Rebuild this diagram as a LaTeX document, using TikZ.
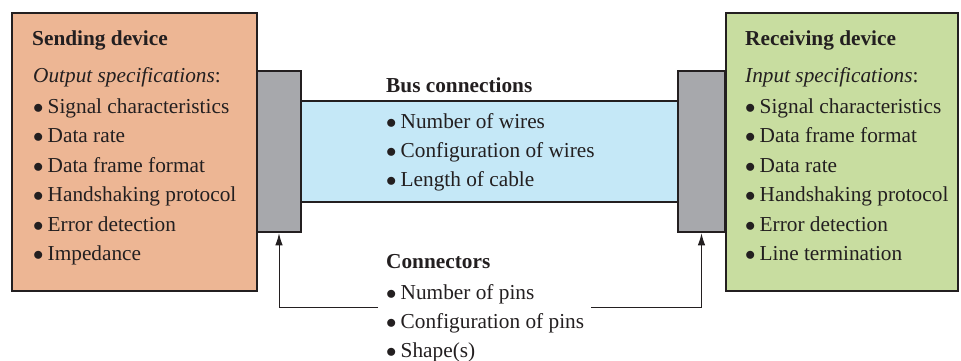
\documentclass[tikz,border=0pt]{standalone}
\usepackage{fontspec}
\setmainfont{Liberation Serif}
\usetikzlibrary{arrows.meta}

\definecolor{sendfill}{RGB}{237,182,148}
\definecolor{recvfill}{RGB}{200,221,160}
\definecolor{busfill}{RGB}{197,232,247}
\definecolor{plugfill}{RGB}{167,168,172}
\definecolor{edgecol}{RGB}{35,31,32}

\newcommand{\dotitem}{$\bullet$\kern-1.2pt\ }

\begin{document}
\begin{tikzpicture}[
    x=1pt, y=-1pt,
    device/.style={draw=edgecol, line width=2.6pt, inner sep=0pt},
    plug/.style={draw=edgecol, line width=2.6pt, fill=plugfill, inner sep=0pt},
    band/.style={draw=edgecol, line width=2pt, fill=busfill, inner sep=0pt},
    txt/.style={anchor=base west, inner sep=0pt, font=\fontsize{21.3}{25}\selectfont, text=edgecol},
    head/.style={txt, font=\fontsize{21.3}{25}\selectfont\bfseries},
    arrow/.style={draw=edgecol, line width=1pt, -{Latex[length=12pt, width=7.5pt]}}
]
    \useasboundingbox (0,0) rectangle (961,360);

    % Devices
    \node[device, fill=sendfill, minimum width=245pt, minimum height=278pt] (send) at (134.5,152) {};
    \node[device, fill=recvfill, minimum width=232pt, minimum height=278pt] (recv) at (842,152) {};

    % Bus and connectors
    \node[band, minimum width=377pt, minimum height=101pt] (bus) at (489.5,151.5) {};
    \node[plug, minimum width=44pt, minimum height=161pt] (connL) at (279,151.5) {};
    \node[plug, minimum width=47pt, minimum height=161pt] (connR) at (701.5,151.5) {};

    % Sending device text
    \node[head] (sendT) at (32,45) {Sending device};
    \node[txt] (sendS) at (33,82) {\textit{Output specifications}:};
    \foreach \t [count=\i] in {Signal characteristics, Data rate, Data frame format,
        Handshaking protocol, Error detection, Impedance} {
        \node[txt] (s\i) at (33,113+29.5*\i-29.5) {\dotitem\t};
    }

    % Receiving device text
    \node[head] (recvT) at (745,45) {Receiving device};
    \node[txt] (recvS) at (745,82) {\textit{Input specifications}:};
    \foreach \t [count=\i] in {Signal characteristics, Data frame format, Data rate,
        Handshaking protocol, Error detection, Line termination} {
        \node[txt] (r\i) at (745,113+29.5*\i-29.5) {\dotitem\t};
    }

    % Bus text
    \node[head] (busT) at (386,92) {Bus connections};
    \foreach \t [count=\i] in {Number of wires, Configuration of wires, Length of cable} {
        \node[txt] (b\i) at (386,128+29.4*\i-29.4) {\dotitem\t};
    }

    % Connector text
    \node[head] (connT) at (386,268) {Connectors};
    \foreach \t [count=\i] in {Number of pins, Configuration of pins, Shape(s)} {
        \node[txt] (c\i) at (386,299+29*\i-29) {\dotitem\t};
    }

    % Pointers to the connectors
    \coordinate (pL) at (378,307);
    \coordinate (pR) at (591,307);
    \draw[arrow] (pL) -| (connL.south);
    \draw[arrow] (pR) -| (connR.south);

\end{tikzpicture}
\end{document}
